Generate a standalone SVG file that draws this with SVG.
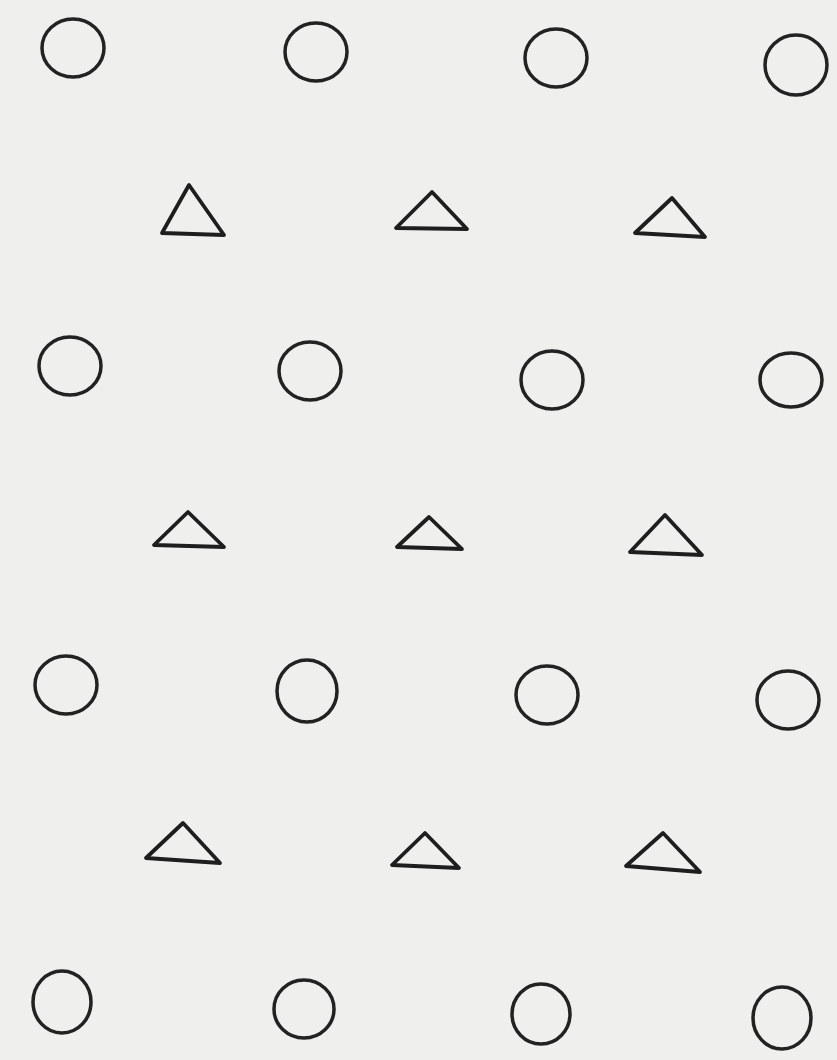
<svg xmlns="http://www.w3.org/2000/svg" width="837" height="1060" viewBox="0 0 837 1060">
<style>
.c{fill:none;stroke:#222;stroke-width:3.5}
.t{fill:none;stroke:#1e1e1e;stroke-width:3.8;stroke-linejoin:round}
</style>
<rect width="837" height="1060" fill="#efefed"/>
<g id="circles">
<g id="c1"><ellipse class="c" cx="73" cy="48" rx="31" ry="29"/></g>
<g id="c2"><ellipse class="c" cx="316" cy="52" rx="31" ry="29"/></g>
<g id="c3"><ellipse class="c" cx="556" cy="58" rx="31" ry="29"/></g>
<g id="c4"><ellipse class="c" cx="796" cy="65" rx="31" ry="30"/></g>
<g id="c5"><ellipse class="c" cx="70" cy="366" rx="31" ry="29"/></g>
<g id="c6"><ellipse class="c" cx="310" cy="371" rx="31" ry="29"/></g>
<g id="c7"><ellipse class="c" cx="552" cy="380" rx="31" ry="29"/></g>
<g id="c8"><ellipse class="c" cx="791" cy="380" rx="31" ry="27"/></g>
<g id="c9"><ellipse class="c" cx="66" cy="685" rx="31" ry="29"/></g>
<g id="c10"><ellipse class="c" cx="307" cy="691" rx="30" ry="31"/></g>
<g id="c11"><ellipse class="c" cx="547" cy="695" rx="31" ry="29"/></g>
<g id="c12"><ellipse class="c" cx="788" cy="700" rx="31" ry="29"/></g>
<g id="c13"><ellipse class="c" cx="62" cy="1002" rx="29" ry="31"/></g>
<g id="c14"><ellipse class="c" cx="304" cy="1009" rx="30" ry="29"/></g>
<g id="c15"><ellipse class="c" cx="541" cy="1014" rx="29" ry="30"/></g>
<g id="c16"><ellipse class="c" cx="782" cy="1018" rx="29" ry="31"/></g>
</g>
<g id="triangles">
<g id="t1"><polygon class="t" points="189,185 162,233 224,235"/></g>
<g id="t2"><polygon class="t" points="432,192 396,228 467,229"/></g>
<g id="t3"><polygon class="t" points="672,198 635,233 705,237"/></g>
<g id="t4"><polygon class="t" points="188,512 154,545 224,547"/></g>
<g id="t5"><polygon class="t" points="429,517 397,547 462,549"/></g>
<g id="t6"><polygon class="t" points="665,515 630,552 702,555"/></g>
<g id="t7"><polygon class="t" points="183,823 146,858 220,863"/></g>
<g id="t8"><polygon class="t" points="425,833 392,865 459,868"/></g>
<g id="t9"><polygon class="t" points="663,833 626,866 700,872"/></g>
</g>
</svg>
